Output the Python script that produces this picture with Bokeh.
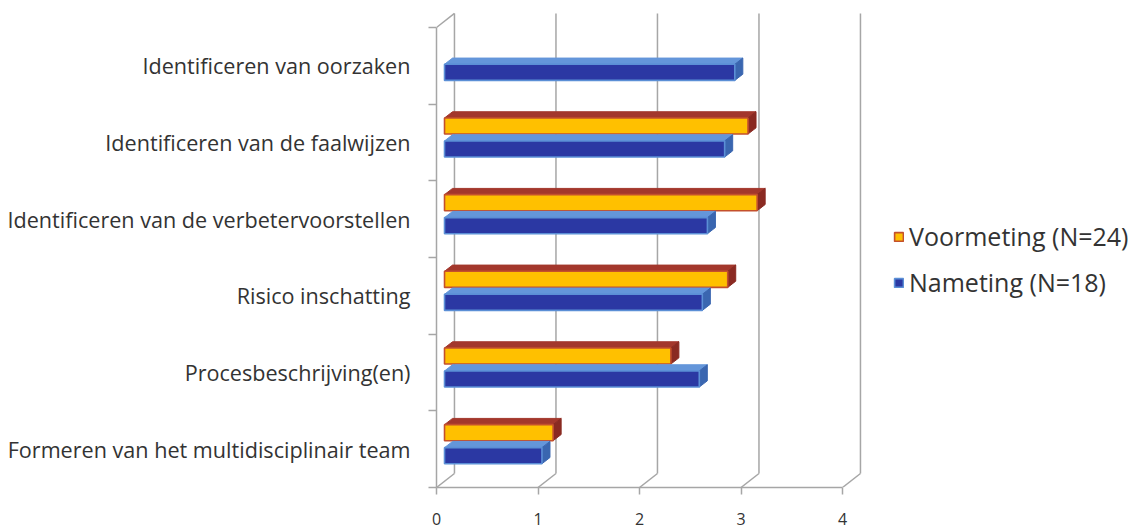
from bokeh.plotting import figure
from bokeh.models import Range1d, LinearAxis, FixedTicker, Legend, LegendItem
from bokeh.embed import file_html
from bokeh.resources import INLINE

# --- data -------------------------------------------------------------
categories = [
    "Formeren van het multidisciplinair team",
    "Procesbeschrijving(en)",
    "Risico inschatting",
    "Identificeren van de verbetervoorstellen",
    "Identificeren van de faalwijzen",
    "Identificeren van oorzaken",
]
voormeting = [1.07, 2.23, 2.79, 3.08, 2.99, None]
nameting = [0.96, 2.51, 2.54, 2.59, 2.76, 2.86]
x_ticks = [0, 1, 2, 3, 4]
series_names = ["Voormeting (N=24)", "Nameting (N=18)"]

# --- pseudo-3D geometry (data units) -----------------------------------
DX, DY = 0.177, 0.183          # full depth of the box
BX, BY = 0.079, 0.081          # depth of a single bar
BAR_H = 0.21                   # height of a bar front face
OFFSETS = [0.61, 0.31]         # bottom of front face inside a category slot
FONT = "Open Sans"

p = figure(width=1139, height=532, output_backend="svg", toolbar_location=None,
           x_axis_type=None, y_axis_type=None,
           x_range=Range1d(0, (1139 - 436) / 101.5),
           y_range=Range1d(0, 477 / 76.67),
           min_border_left=436, min_border_right=0,
           min_border_top=10, min_border_bottom=45)
p.outline_line_color = None
p.background_fill_color = "white"
p.border_fill_color = "white"

grid_col = "#A6A6A6"
n_cat = len(categories)
xmax = x_ticks[-1]

# back wall gridlines
p.segment(x0=[t + DX for t in x_ticks], y0=[DY] * len(x_ticks),
          x1=[t + DX for t in x_ticks], y1=[n_cat + DY] * len(x_ticks),
          line_color=grid_col, line_width=1.5)
# floor edges running from the front axis to the back wall
p.segment(x0=x_ticks, y0=[0] * len(x_ticks),
          x1=[t + DX for t in x_ticks], y1=[DY] * len(x_ticks),
          line_color=grid_col, line_width=1.5)
# top edge of the side wall
p.segment(x0=[0], y0=[n_cat], x1=[DX], y1=[n_cat + DY],
          line_color=grid_col, line_width=1.5)

styles = [
    dict(face="#FFC000", edge="#C4502C", top="#A3372C", side="#8A2A22"),
    dict(face="#2B38A3", edge="#5B8FD6", top="#6496DA", side="#3A66B0"),
]

renderers = []
for s, vals in enumerate([voormeting, nameting]):
    st = styles[s]
    ys, rights, tops_x, tops_y, sides_x, sides_y = [], [], [], [], [], []
    for i, v in enumerate(vals):
        if v is None:
            continue
        y0 = i + OFFSETS[s]
        y1 = y0 + BAR_H
        x0 = BX
        x1 = BX + v
        ys.append((y0 + y1) / 2)
        rights.append(x1)
        tops_x.append([x0, x1, x1 + BX, x0 + BX])
        tops_y.append([y1, y1, y1 + BY, y1 + BY])
        sides_x.append([x1, x1 + BX, x1 + BX, x1])
        sides_y.append([y0, y0 + BY, y1 + BY, y1])
    p.patches(tops_x, tops_y, fill_color=st["top"], line_color=st["top"], line_width=1)
    p.patches(sides_x, sides_y, fill_color=st["side"], line_color=st["side"], line_width=1)
    r = p.hbar(y=ys, left=BX, right=rights, height=BAR_H,
               fill_color=st["face"], line_color=st["edge"], line_width=1.6)
    renderers.append(r)

# --- axes ---------------------------------------------------------------
xaxis = LinearAxis(bounds=(0, xmax), ticker=FixedTicker(ticks=x_ticks),
                   axis_line_color=grid_col, axis_line_width=1.5,
                   major_tick_line_color=grid_col, major_tick_line_width=1.5,
                   major_tick_out=7, major_tick_in=0,
                   minor_tick_line_color=None,
                   major_label_standoff=18,
                   major_label_text_font=FONT,
                   major_label_text_font_size="16px",
                   major_label_text_color="#333333")
p.add_layout(xaxis, "below")

centers = [i + 0.5 for i in range(n_cat)]
yaxis = LinearAxis(bounds=(0, n_cat),
                   ticker=FixedTicker(ticks=centers, minor_ticks=list(range(n_cat + 1))),
                   major_label_overrides={c: lab for c, lab in zip(centers, categories)},
                   axis_line_color=grid_col, axis_line_width=1.5,
                   major_tick_line_color=None, major_tick_out=0, major_tick_in=0,
                   minor_tick_line_color=grid_col, minor_tick_line_width=1.5,
                   minor_tick_out=8, minor_tick_in=0,
                   major_label_standoff=18,
                   major_label_text_font=FONT,
                   major_label_text_font_size="21.6px",
                   major_label_text_color="#333333")
p.add_layout(yaxis, "left")

# --- legend -------------------------------------------------------------
legend = Legend(items=[LegendItem(label=series_names[0], renderers=[renderers[0]]),
                       LegendItem(label=series_names[1], renderers=[renderers[1]])],
                location=(457, 188), orientation="vertical",
                glyph_width=11, glyph_height=11, label_height=28,
                spacing=12, padding=0, margin=0, label_standoff=5,
                border_line_color=None, background_fill_alpha=0,
                label_text_font=FONT, label_text_font_size="25px",
                label_text_color="#333333")
p.add_layout(legend)

open("out.html", "w").write(file_html(p, INLINE))
